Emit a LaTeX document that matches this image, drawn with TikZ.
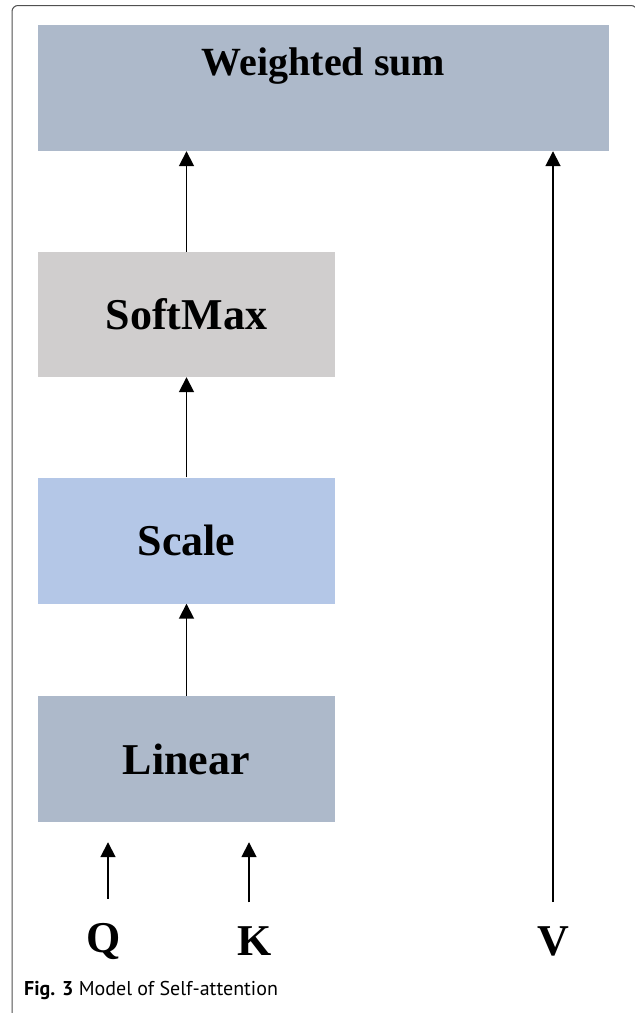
\documentclass[tikz,border=0pt]{standalone}
\usepackage{fontspec}
\setmainfont{Liberation Serif}
\newfontfamily\captionfont{PT Sans}
\usetikzlibrary{arrows.meta}
\usetikzlibrary{positioning}
\definecolor{AttnBlueGray}{HTML}{ADB9CA}
\definecolor{AttnGray}{HTML}{D0CECE}
\definecolor{AttnBlue}{HTML}{B4C7E7}
\definecolor{AttnFrame}{HTML}{505050}

\begin{document}
\begin{tikzpicture}[x=1pt, y=-1pt,
  block/.style={rectangle, inner sep=0pt, minimum width=297pt, minimum height=126pt,
    font=\fontsize{44}{48}\selectfont\bfseries},
  invar/.style={inner sep=0pt, font=\fontsize{44}{48}\selectfont\bfseries},
  arr/.style={-{Triangle[length=15pt,width=15pt]}, line width=1.8pt}
  ]
  \useasboundingbox (0,0) rectangle (635,1013);
  % frame of the figure:
  \draw[AttnFrame, line width=1pt, rounded corners=6pt] (12,5.5) rectangle (637,1030);
  %
  % blocks, from top to bottom:
  \node [block, fill=AttnBlueGray, minimum width=571pt] (wsum) at (323.5,88) {};
  \node [font=\fontsize{40}{44}\selectfont\bfseries] at ([yshift=22pt]wsum.center) {Weighted sum};
  \node [block, fill=AttnGray, minimum height=125pt] (soft) at (186.5,314.5) {SoftMax};
  \node [block, fill=AttnBlue] (scale) at (186.5,540.5) {Scale};
  \node [block, fill=AttnBlueGray] (lin) at (186.5,759) {Linear};
  %
  % inputs:
  \node [invar] (q) at (104,941) {Q};
  \node [invar] (k) at (255,941) {K};
  \node [invar] (v) at (553,941) {V};
  %
  \draw[arr] (lin) -- (scale);
  \draw[arr] (scale) -- (soft);
  \draw[arr] (soft) -- (soft |- wsum.south);
  \draw[arr] ([xshift=4pt,yshift=24pt]q.north) -- ([xshift=4pt,yshift=-20pt]q.north |- lin.south);
  \draw[arr] ([xshift=-6pt,yshift=24pt]k.north) -- ([xshift=-6pt,yshift=-20pt]k.north |- lin.south);
  \draw[arr] ([yshift=24pt]v.north) -- (v.north |- wsum.south);
  %
  % caption:
  \node [anchor=base west, inner sep=0pt, font=\captionfont\fontsize{20}{22}\selectfont] (cap) at (24,995)
    {\textbf{Fig. 3} Model of Self-attention};
\end{tikzpicture}
\end{document}
